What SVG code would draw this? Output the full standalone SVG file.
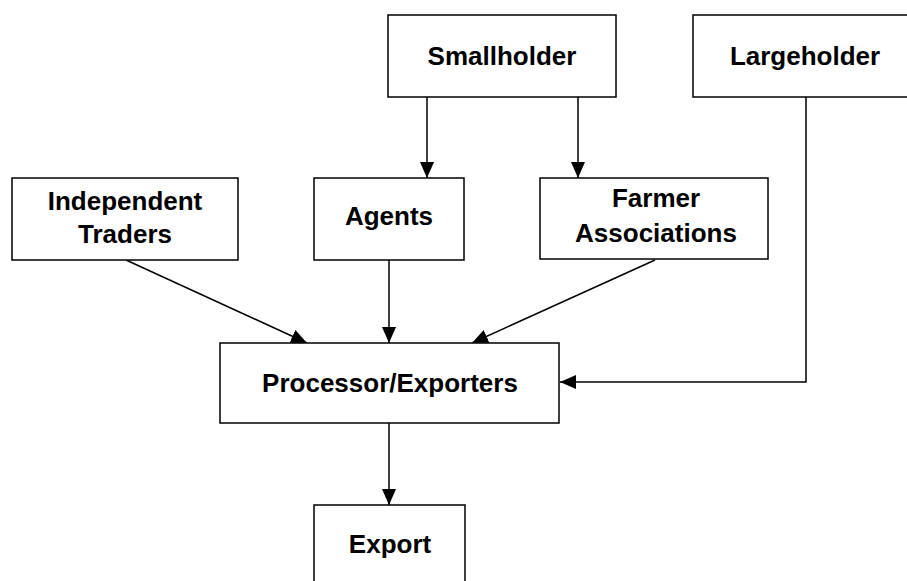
<svg xmlns="http://www.w3.org/2000/svg" width="907" height="581" viewBox="0 0 907 581">
<style>
.box{fill:#fff;stroke:#000;stroke-width:1.5}
.lbl{font-family:"Liberation Sans",Arial,sans-serif;font-weight:bold;font-size:26px;text-anchor:middle;fill:#000}
.con{fill:none;stroke:#000;stroke-width:1.5}
</style>
<defs>
<marker id="ah" markerUnits="userSpaceOnUse" markerWidth="16" markerHeight="14" viewBox="0 0 16 14" refX="16" refY="7" orient="auto">
<path d="M0,0 L16,7 L0,14 Z" fill="#000"/>
</marker>
</defs>
<rect width="907" height="581" fill="#fff"/>
<g id="connectors">
<line class="con" x1="427" y1="97" x2="427" y2="178" marker-end="url(#ah)"/>
<line class="con" x1="578" y1="97" x2="578" y2="178" marker-end="url(#ah)"/>
<line class="con" x1="126" y1="260" x2="307" y2="343" marker-end="url(#ah)"/>
<line class="con" x1="389" y1="260" x2="389" y2="343" marker-end="url(#ah)"/>
<line class="con" x1="655" y1="260" x2="472" y2="343" marker-end="url(#ah)"/>
<polyline class="con" points="806,97 806,382 560,382" marker-end="url(#ah)"/>
<line class="con" x1="389" y1="423" x2="389" y2="505" marker-end="url(#ah)"/>
</g>
<g id="smallholder">
<rect class="box" x="388" y="15" width="228" height="82"/>
<text class="lbl" x="502" y="65">Smallholder</text>
</g>
<g id="largeholder">
<rect class="box" x="693" y="15" width="230" height="82"/>
<text class="lbl" x="805" y="65">Largeholder</text>
</g>
<g id="independent-traders">
<rect class="box" x="12" y="178" width="226" height="82"/>
<text class="lbl" x="125" y="210">Independent</text>
<text class="lbl" x="125" y="243">Traders</text>
</g>
<g id="agents">
<rect class="box" x="314" y="178" width="150" height="82"/>
<text class="lbl" x="389" y="225">Agents</text>
</g>
<g id="farmer-associations">
<rect class="box" x="540" y="178" width="228" height="81"/>
<text class="lbl" x="656" y="207">Farmer</text>
<text class="lbl" x="656" y="242">Associations</text>
</g>
<g id="processor-exporters">
<rect class="box" x="220" y="343" width="339" height="80"/>
<text class="lbl" x="390" y="392">Processor/Exporters</text>
</g>
<g id="export">
<rect class="box" x="314" y="505" width="151" height="90"/>
<text class="lbl" x="390" y="553">Export</text>
</g>
</svg>
